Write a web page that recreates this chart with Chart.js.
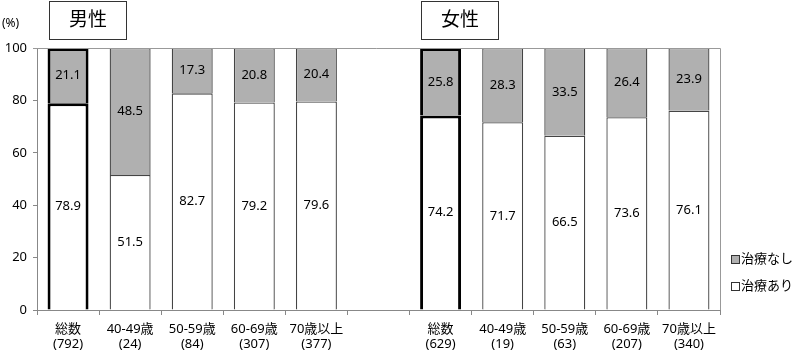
<!DOCTYPE html>
<html>
<head>
<meta charset="utf-8">
<script src="https://cdn.jsdelivr.net/npm/chart.js@4"></script>
<style>
  html, body { margin: 0; padding: 0; background: #fff; }
  #wrap { width: 799px; height: 352px; }
</style>
</head>
<body>
<div id="wrap"><canvas id="chart" width="799" height="352"></canvas></div>
<script>
const FONT = '"Noto Sans", "Noto Sans CJK JP", sans-serif';

// categories (empty slot separates men / women)
const categories = [
    ["総数", "(792)"], ["40-49歳", "(24)"], ["50-59歳", "(84)"], ["60-69歳", "(307)"], ["70歳以上", "(377)"],
    "",
    ["総数", "(629)"], ["40-49歳", "(19)"], ["50-59歳", "(63)"], ["60-69歳", "(207)"], ["70歳以上", "(340)"]
];
const withTreatment = [78.9, 51.5, 82.7, 79.2, 79.6, null, 74.2, 71.7, 66.5, 73.6, 76.1];
const withoutTreatment = [21.1, 48.5, 17.3, 20.8, 20.4, null, 25.8, 28.3, 33.5, 26.4, 23.9];
const groupTitles = ["男性", "女性"];
const groupFirstIndex = [0, 6];
const totalIndex = [0, 6];

const borderColors = categories.map((c, i) => totalIndex.includes(i) ? "#000" : "#444");
const borderWidths = categories.map((c, i) => totalIndex.includes(i) ? 3 : 1.3);

// value labels in the middle of each segment
const valueLabels = {
    id: "valueLabels",
    afterDatasetsDraw(chart) {
        const ctx = chart.ctx;
        ctx.save();
        ctx.font = "13px " + FONT;
        ctx.fillStyle = "#000";
        ctx.textAlign = "center";
        ctx.textBaseline = "middle";
        chart.data.datasets.forEach((ds, di) => {
            chart.getDatasetMeta(di).data.forEach((bar, i) => {
                const v = ds.data[i];
                if (v == null) return;
                const mid = (bar.y + bar.base) / 2;
                ctx.fillText(v.toFixed(1), bar.x, mid);
            });
        });
        ctx.restore();
    }
};

// frame, titles, "(%)" and legend
const decorations = {
    id: "decorations",
    afterDraw(chart) {
        const ctx = chart.ctx;
        const area = chart.chartArea;
        ctx.save();
        // top and right border of plot area
        ctx.strokeStyle = "#999";
        ctx.lineWidth = 1;
        ctx.beginPath();
        ctx.moveTo(area.left - 4, area.top + 0.5);
        ctx.lineTo(area.right + 0.5, area.top + 0.5);
        ctx.lineTo(area.right + 0.5, area.bottom);
        ctx.stroke();

        ctx.fillStyle = "#000";
        ctx.font = "12px " + FONT;
        ctx.textAlign = "left";
        ctx.textBaseline = "middle";
        ctx.fillText("(%)", 2, 24);

        // group title boxes
        const meta = chart.getDatasetMeta(0);
        groupTitles.forEach((t, k) => {
            const bar = meta.data[groupFirstIndex[k]];
            const left = Math.round(bar.x - bar.width / 2) + 1.5;
            ctx.strokeStyle = "#333";
            ctx.lineWidth = 1;
            ctx.strokeRect(left, 1.5, 77, 38);
            ctx.font = "19px " + FONT;
            ctx.textAlign = "center";
            ctx.fillText(t, left + 38.5, 21);
        });

        // legend
        const items = [
            { label: "治療なし", color: "#b0b0b0", y: 259 },
            { label: "治療あり", color: "#fff", y: 286 }
        ];
        ctx.font = "13px " + FONT;
        ctx.textAlign = "left";
        items.forEach(it => {
            ctx.fillStyle = it.color;
            ctx.fillRect(731, it.y - 4, 8, 8);
            ctx.strokeStyle = "#333";
            ctx.strokeRect(731.5, it.y - 3.5, 8, 8);
            ctx.fillStyle = "#000";
            ctx.fillText(it.label, 741, it.y);
        });
        ctx.restore();
    }
};

new Chart(document.getElementById("chart"), {
    type: "bar",
    data: {
        labels: categories,
        datasets: [
            {
                label: "治療あり",
                data: withTreatment,
                backgroundColor: "#fff",
                borderColor: borderColors,
                borderWidth: borderWidths,
                barPercentage: 0.66,
                categoryPercentage: 1
            },
            {
                label: "治療なし",
                data: withoutTreatment,
                backgroundColor: "#b0b0b0",
                borderColor: borderColors,
                borderWidth: borderWidths,
                barPercentage: 0.66,
                categoryPercentage: 1
            }
        ]
    },
    options: {
        responsive: false,
        animation: false,
        layout: { padding: { top: 48, right: 79, left: 0, bottom: 0 } },
        plugins: {
            legend: { display: false },
            tooltip: { enabled: false }
        },
        scales: {
            x: {
                stacked: true,
                afterFit(scale) { scale.height = 42; },
                grid: { display: true, drawOnChartArea: false, tickLength: 5, color: "#888", offset: true },
                border: { color: "#888" },
                ticks: {
                    color: "#000",
                    font: { size: 13, family: FONT },
                    maxRotation: 0,
                    autoSkip: false,
                    padding: 6
                }
            },
            y: {
                stacked: true,
                min: 0,
                max: 100,
                afterFit(scale) { scale.width = 37; },
                grid: { display: true, drawOnChartArea: false, tickLength: 4, color: "#888" },
                border: { color: "#888" },
                ticks: {
                    stepSize: 20,
                    color: "#000",
                    font: { size: 13, family: FONT },
                    padding: 6
                }
            }
        }
    },
    plugins: [valueLabels, decorations]
});
</script>
</body>
</html>
